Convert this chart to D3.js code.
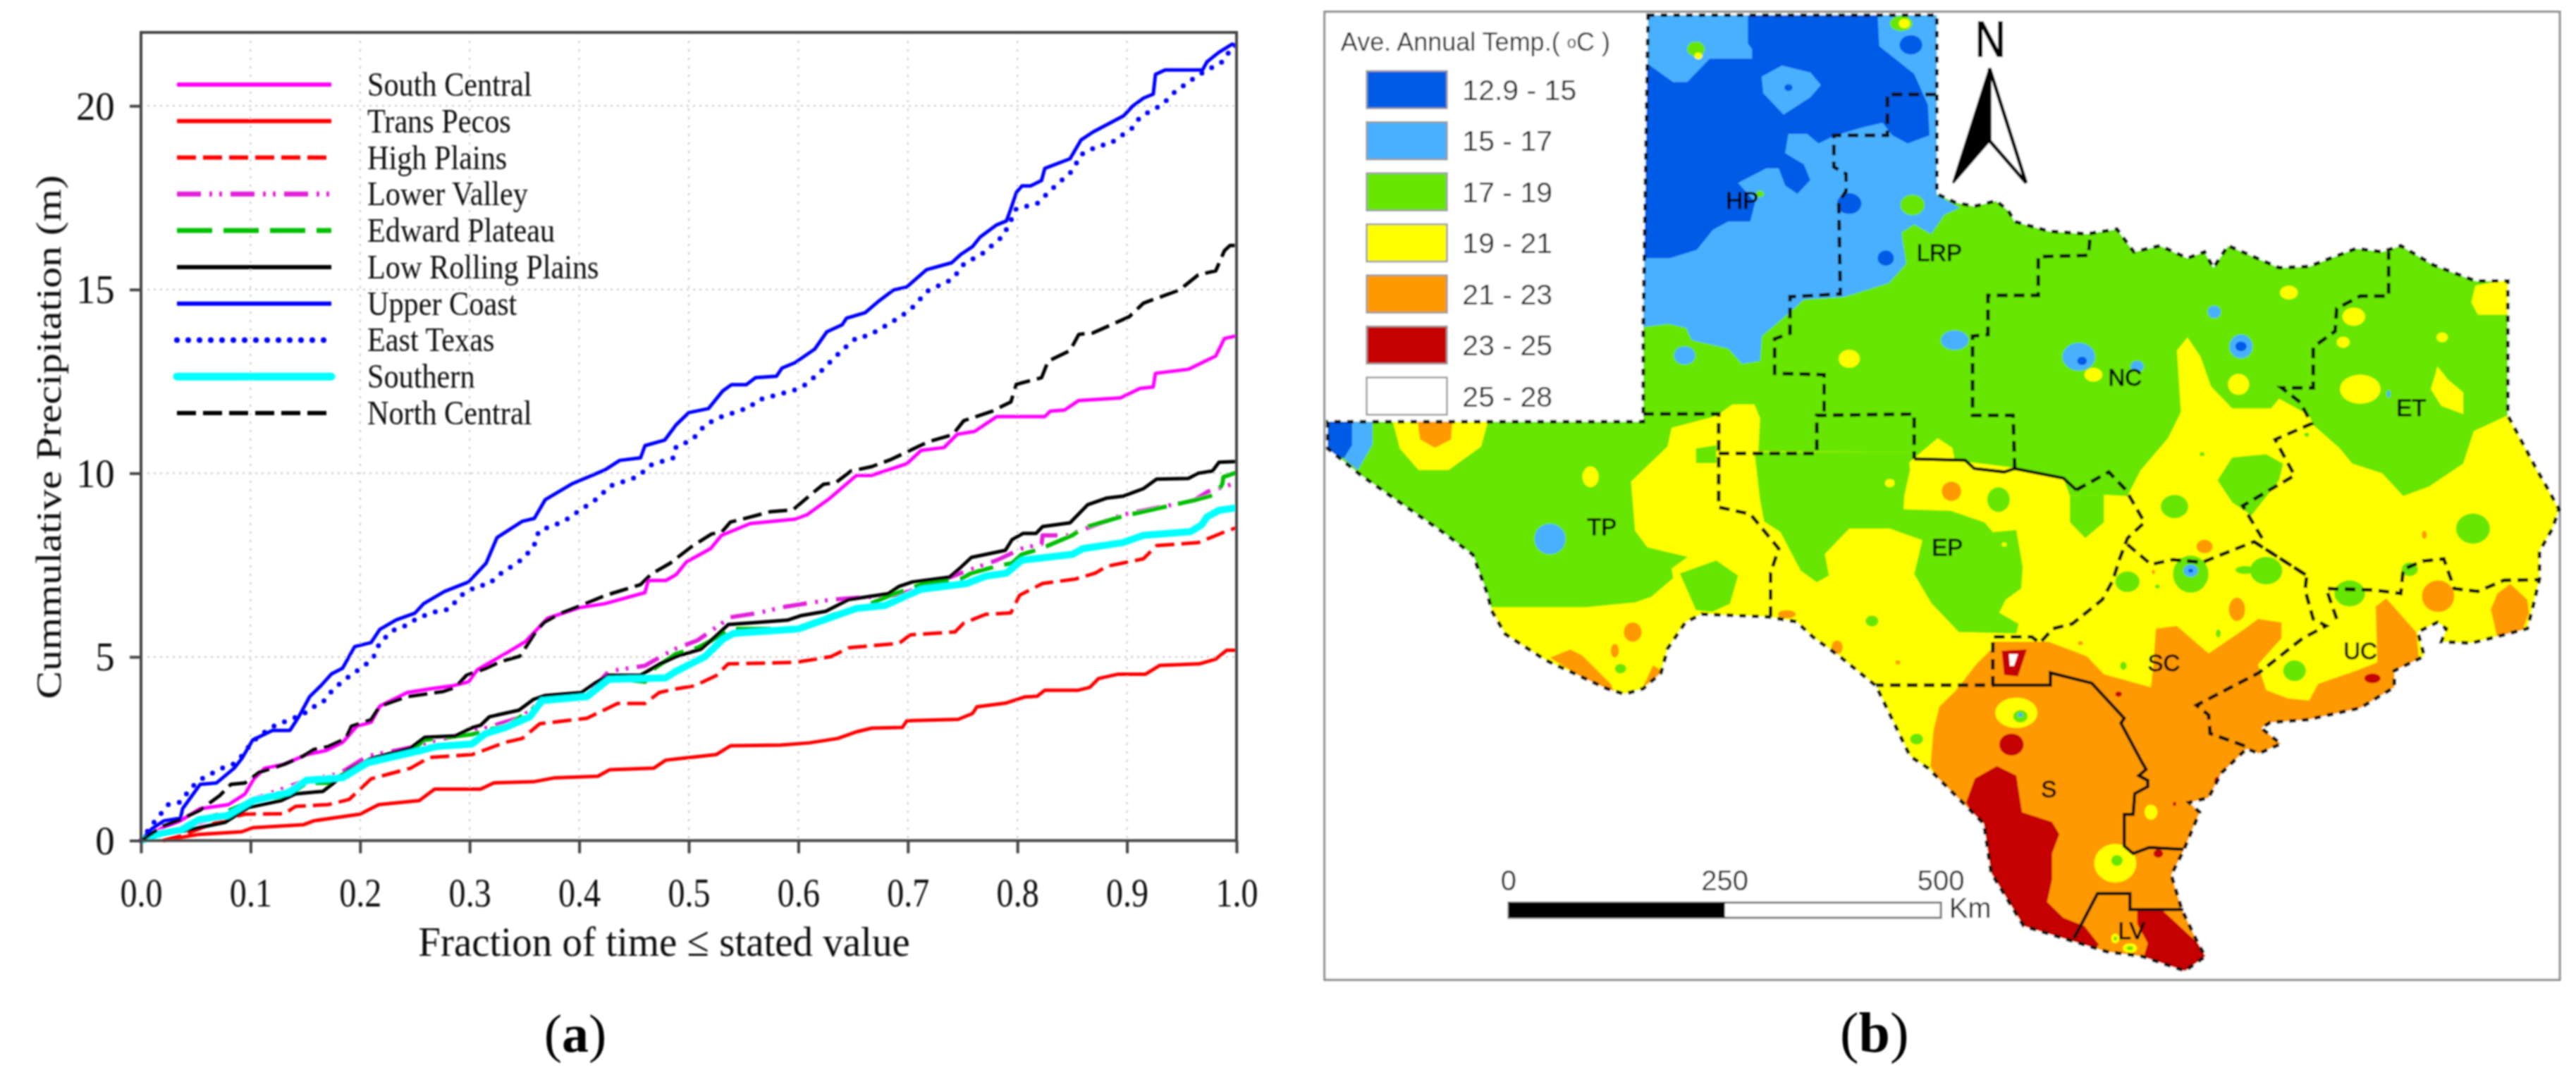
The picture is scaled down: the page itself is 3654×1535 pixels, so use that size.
<!DOCTYPE html>
<html>

<head>
  <meta charset='utf-8'>
  <script src='https://d3js.org/d3.v7.min.js'></script>
  <style>
    body {
      margin: 0;
      background: white;
    }
  </style>
</head>

<body>
  <script type='text/javascript'>
    // ---- panel (a): [fraction of time, cumulative precipitation in m]
    var southCentral = [[0,0],[.02,.35],[.036,.54],[.054,.87],[.08,.98],[.095,1.27],[.103,1.68],[.113,1.97],[.131,2.08],[.151,2.34],[.169,2.45],[.184,2.67],[.197,3.11],[.21,3.22],[.218,3.66],[.243,4.03],[.266,4.14],[.284,4.21],[.299,4.32],[.307,4.65],[.322,4.91],[.335,5.13],[.351,5.42],[.364,5.83],[.371,6.05],[.4,6.34],[.4235,6.45],[.46,6.75],[.463,7.08],[.479,7.08],[.4885,7.24],[.498,7.59],[.52,7.95],[.53,8.31],[.556,8.63],[.597,8.75],[.608,8.87],[.628,9.3],[.653,9.94],[.667,9.94],[.699,10.26],[.712,10.62],[.733,10.7],[.745,11.06],[.761,11.14],[.781,11.54],[.825,11.54],[.83,11.69],[.843,11.72],[.856,11.98],[.894,12.05],[.912,12.31],[.924,12.35],[.926,12.72],[.956,12.83],[.981,13.19],[.989,13.67],[1,13.74]];
    var transPecos = [[.02,0],[.053,.17],[.092,.24],[.102,.35],[.148,.43],[.158,.54],[.2,.72],[.217,.98],[.254,1.09],[.268,1.4],[.31,1.4],[.322,1.57],[.358,1.6],[.378,1.71],[.417,1.75],[.428,1.93],[.468,1.97],[.479,2.19],[.4885,2.22],[.525,2.34],[.538,2.58],[.584,2.6],[.61,2.66],[.636,2.78],[.653,2.96],[.667,3.06],[.695,3.08],[.699,3.26],[.746,3.3],[.759,3.46],[.763,3.64],[.789,3.74],[.807,3.91],[.818,3.93],[.825,4.09],[.855,4.09],[.866,4.17],[.874,4.41],[.892,4.53],[.917,4.53],[.93,4.77],[.966,4.81],[.981,4.94],[.991,5.18],[1,5.18]];
    var highPlains = [[.02,0],[.043,.2],[.072,.54],[.095,.72],[.131,.73],[.141,.93],[.171,.98],[.19,1.12],[.21,1.68],[.246,1.97],[.263,2.26],[.302,2.34],[.315,2.48],[.332,2.67],[.348,2.78],[.364,3.18],[.407,3.33],[.435,3.73],[.46,3.73],[.473,4.03],[.4885,4.13],[.505,4.21],[.525,4.49],[.536,4.81],[.597,4.85],[.63,5.01],[.646,5.25],[.692,5.37],[.702,5.6],[.743,5.68],[.751,5.92],[.771,6.16],[.794,6.2],[.802,6.68],[.823,7],[.853,7.12],[.871,7.28],[.882,7.47],[.915,7.67],[.927,8.03],[.965,8.11],[.988,8.39],[1,8.52]];
    var lowerValley = [[0,0],[.036,.35],[.079,.72],[.102,1.12],[.151,1.64],[.181,1.82],[.207,2.3],[.25,2.56],[.315,3.07],[.348,3.37],[.368,3.88],[.407,3.95],[.427,4.61],[.46,4.76],[.486,5.2],[.508,5.45],[.538,6.08],[.564,6.2],[.587,6.36],[.63,6.56],[.689,6.68],[.712,6.88],[.751,7.31],[.781,7.63],[.804,7.95],[.822,8.07],[.823,8.31],[.846,8.31],[.896,8.87],[.961,9.26],[.974,9.5],[1,9.74]];
    var edwardPlateau = [[0,0],[.036,.32],[.053,.57],[.072,.72],[.102,1.09],[.135,1.23],[.151,1.57],[.171,1.57],[.19,1.9],[.21,2.19],[.25,2.52],[.259,2.74],[.302,2.89],[.315,3],[.335,3.14],[.361,3.66],[.371,3.92],[.407,3.95],[.427,4.43],[.46,4.32],[.469,4.69],[.4885,5.09],[.508,5.25],[.521,5.45],[.538,5.76],[.597,5.76],[.633,6.16],[.649,6.24],[.682,6.65],[.715,7],[.748,7.12],[.758,7.28],[.781,7.47],[.795,7.55],[.804,7.79],[.817,7.91],[.828,8.03],[.85,8.31],[.86,8.51],[.896,8.83],[.961,9.26],[.981,9.42],[.987,9.7],[.988,9.9],[1,10.02]];
    var lowRollingPlains = [[0,0],[.02,.24],[.036,.24],[.053,.35],[.077,.5],[.098,.9],[.128,1.09],[.141,1.27],[.166,1.34],[.176,1.57],[.19,1.93],[.21,2.23],[.246,2.52],[.259,2.81],[.287,2.85],[.302,3.07],[.31,3.14],[.318,3.37],[.345,3.55],[.358,3.84],[.369,3.95],[.402,4.03],[.414,4.28],[.427,4.5],[.456,4.5],[.473,4.8],[.4885,5.01],[.511,5.21],[.523,5.52],[.536,5.88],[.567,5.95],[.59,6],[.602,6.12],[.625,6.24],[.646,6.56],[.682,6.72],[.692,6.92],[.704,7.04],[.738,7.17],[.748,7.43],[.758,7.71],[.789,7.9],[.795,8.19],[.805,8.36],[.817,8.36],[.823,8.55],[.848,8.65],[.864,9.14],[.881,9.32],[.897,9.38],[.915,9.58],[.927,9.84],[.956,9.86],[.965,10],[.978,10.06],[.984,10.3],[1,10.32]];
    var upperCoast = [[0,0],[.0098,.32],[.021,.54],[.036,.61],[.038,.87],[.054,1.53],[.069,1.57],[.085,1.97],[.092,2.23],[.102,2.74],[.12,3],[.136,3],[.144,3.37],[.154,3.92],[.164,4.21],[.174,4.54],[.184,4.69],[.195,5.28],[.21,5.39],[.218,5.75],[.233,6.01],[.25,6.19],[.258,6.45],[.277,6.78],[.299,7.04],[.315,7.55],[.325,8.25],[.348,8.69],[.359,8.77],[.369,9.28],[.394,9.72],[.4235,10.09],[.437,10.35],[.456,10.42],[.46,10.75],[.478,10.9],[.4885,11.32],[.5,11.65],[.518,11.76],[.531,12.24],[.539,12.41],[.5525,12.41],[.561,12.6],[.58,12.64],[.585,12.86],[.597,13.01],[.615,13.38],[.626,13.85],[.64,14.04],[.644,14.22],[.661,14.37],[.674,14.7],[.687,14.99],[.699,15.07],[.717,15.54],[.74,15.73],[.748,15.95],[.759,16.17],[.766,16.43],[.781,16.76],[.79,16.87],[.794,17.2],[.799,17.64],[.804,17.82],[.812,17.82],[.822,17.97],[.825,18.3],[.848,18.56],[.858,19.07],[.869,19.29],[.897,19.73],[.905,19.99],[.915,20.21],[.924,20.32],[.926,20.86],[.935,20.98],[.969,20.98],[.973,21.2],[.984,21.46],[.996,21.68],[1,21.64]];
    var eastTexas = [[0,0],[.01,.43],[.025,.98],[.036,1.05],[.046,1.45],[.057,1.71],[.074,1.97],[.084,2.08],[.092,2.3],[.102,2.7],[.118,3.07],[.126,3.18],[.136,3.29],[.148,3.44],[.156,3.62],[.166,3.77],[.176,4.14],[.19,4.47],[.204,4.76],[.212,4.98],[.218,5.39],[.23,5.72],[.24,5.83],[.254,6.08],[.269,6.23],[.281,6.3],[.292,6.67],[.307,6.93],[.317,6.97],[.328,7.26],[.35,7.7],[.36,8.1],[.363,8.43],[.386,8.69],[.402,9.02],[.417,9.32],[.428,9.65],[.453,9.9],[.466,10.23],[.486,10.42],[.4885,10.73],[.503,10.9],[.515,11.32],[.53,11.54],[.556,11.8],[.562,11.98],[.597,12.27],[.605,12.38],[.618,12.7],[.641,13.38],[.654,13.71],[.664,13.74],[.685,14.11],[.702,14.44],[.718,14.96],[.741,15.29],[.751,15.69],[.768,15.98],[.787,16.46],[.795,16.94],[.799,17.2],[.818,17.34],[.832,17.75],[.85,18.23],[.858,18.67],[.874,18.92],[.884,18.96],[.905,19.4],[.912,19.7],[.932,20.03],[.943,20.36],[.958,20.69],[.971,20.94],[.987,21.2],[.997,21.64],[1,21.64]];
    var southern = [[0,0],[.018,.2],[.036,.28],[.053,.57],[.079,.68],[.102,1.09],[.135,1.31],[.151,1.64],[.184,1.71],[.207,2.12],[.259,2.48],[.269,2.56],[.302,2.63],[.315,2.92],[.332,3.07],[.355,3.37],[.366,3.81],[.407,3.92],[.427,4.39],[.479,4.43],[.4885,4.61],[.515,5.01],[.531,5.48],[.541,5.64],[.6,5.76],[.653,6.32],[.679,6.4],[.712,6.84],[.754,7],[.771,7.2],[.79,7.28],[.804,7.63],[.85,7.79],[.86,7.95],[.896,8.11],[.915,8.31],[.958,8.41],[.968,8.59],[.973,8.81],[.984,8.99],[1,9.06]];
    var northCentral = [[0,0],[.02,.39],[.036,.57],[.054,.83],[.072,1.23],[.082,1.53],[.095,1.57],[.108,1.86],[.131,2.08],[.148,2.3],[.158,2.48],[.171,2.56],[.187,2.78],[.192,3.11],[.21,3.29],[.218,3.66],[.243,3.92],[.276,4.06],[.287,4.17],[.297,4.5],[.315,4.69],[.328,4.87],[.346,5.02],[.361,5.72],[.368,5.94],[.381,6.16],[.4,6.38],[.4235,6.67],[.456,6.97],[.466,7.26],[.483,7.55],[.502,7.99],[.521,8.35],[.53,8.39],[.538,8.67],[.554,8.79],[.574,8.95],[.595,9],[.602,9.18],[.613,9.46],[.623,9.7],[.634,9.74],[.648,10.06],[.667,10.18],[.685,10.38],[.702,10.62],[.718,10.85],[.741,11.05],[.751,11.43],[.777,11.69],[.794,11.94],[.799,12.42],[.822,12.6],[.828,13.05],[.848,13.34],[.856,13.78],[.869,13.82],[.902,14.26],[.915,14.63],[.948,14.99],[.965,15.4],[.981,15.51],[.989,16.06],[.994,16.2],[1,16.2]];

    var seriesNames = ['South Central', 'Trans Pecos', 'High Plains', 'Lower Valley', 'Edward Plateau', 'Low Rolling Plains', 'Upper Coast', 'East Texas', 'Southern', 'North Central'];
    var seriesValues = [southCentral, transPecos, highPlains, lowerValley, edwardPlateau, lowRollingPlains, upperCoast, eastTexas, southern, northCentral];
    var seriesColors = ['#ff00ff', '#ff0000', '#ff0000', '#e020d8', '#00c000', '#000000', '#0000ff', '#0000ff', '#00ffff', '#000000'];
    var seriesWidths = [5, 5, 5, 6, 6, 5, 5, 7, 10, 5];
    var seriesDashes = [null, null, '27 10', '34 12 4 10 4 12', '50 16', null, null, '0 16', null, '27 10'];

    var xTicks = [0, .1, .2, .3, .4, .5, .6, .7, .8, .9, 1];
    var yTicks = [0, 5, 10, 15, 20];

    // ---- panel (b): legend classes and shapes, in map read units (1568 x 1568 over the panel)
    var tempClasses = ['12.9 - 15', '15 - 17', '17 - 19', '19 - 21', '21 - 23', '23 - 25', '25 - 28'];
    var tempColors = ['#005ce6', '#4ab0ff', '#66e600', '#ffff00', '#ff9900', '#c40000', '#ffffff'];

    var texasOutline = [[424,22],[780,22],[780,281],[802,293],[826,299],[853,291],[868,305],[876,321],[918,335],[965,339],[1002,332],[1023,365],[1055,356],[1089,374],[1110,365],[1121,388],[1139,356],[1202,388],[1239,386],[1297,360],[1329,365],[1352,356],[1392,384],[1444,407],[1484,407],[1484,602],[1518,677],[1534,710],[1547,738],[1539,766],[1523,799],[1523,839],[1515,879],[1508,911],[1476,921],[1439,932],[1402,930],[1408,911],[1397,902],[1373,916],[1381,951],[1344,972],[1344,996],[1302,1026],[1237,1043],[1191,1047],[1180,1055],[1204,1078],[1177,1092],[1162,1085],[1131,1120],[1115,1156],[1091,1163],[1104,1177],[1089,1219],[1084,1233],[1069,1268],[1082,1318],[1102,1367],[1111,1386],[1086,1407],[1033,1386],[989,1379],[945,1363],[887,1342],[847,1265],[838,1194],[816,1168],[769,1113],[747,1096],[705,994],[662,953],[627,923],[607,901],[572,894],[490,890],[470,902],[448,940],[440,975],[418,998],[395,1006],[373,998],[298,957],[248,919],[231,885],[226,861],[208,804],[173,773],[119,729],[69,688],[29,650],[29,611],[418,611],[418,475]];

    var lightBlueAreas = [
      [[424,22],[780,22],[780,283],[808,301],[789,311],[773,339],[752,325],[736,337],[742,382],[721,410],[666,430],[616,434],[597,454],[564,487],[562,523],[540,527],[523,505],[478,493],[471,475],[449,469],[410,475]],
      [[59,611],[84,611],[84,644],[66,681],[49,664]]
    ];
    var darkBlueAreas = [
      [[547,22],[547,63],[552,71],[552,85],[500,85],[472,119],[455,119],[424,93],[410,93],[410,374],[451,374],[484,362],[504,333],[523,321],[550,321],[556,293],[535,265],[570,244],[585,244],[593,269],[608,281],[624,261],[616,238],[593,222],[597,194],[620,194],[634,208],[655,196],[690,184],[713,178],[725,196],[744,208],[771,196],[769,152],[752,107],[709,67],[707,22]],
      [[20,605],[59,605],[59,645],[49,664],[20,650]]
    ];
    var lightBlueIslands = [[[564,111],[589,95],[624,105],[637,123],[624,141],[591,166],[566,135]]];
    var yellowAreas = [
      [[200,880],[231,880],[348,880],[408,873],[428,865],[455,838],[453,824],[473,807],[423,793],[408,769],[403,698],[448,647],[453,620],[508,603],[528,586],[555,586],[562,606],[560,654],[745,655],[739,677],[781,635],[799,649],[802,667],[870,677],[936,693],[944,719],[986,717],[1015,719],[1031,682],[1065,635],[1081,597],[1076,508],[1089,489],[1105,517],[1118,560],[1144,592],[1192,592],[1202,578],[1239,602],[1244,616],[1276,649],[1292,672],[1329,686],[1355,719],[1387,705],[1429,672],[1442,625],[1484,602],[1600,620],[1600,1000],[1100,1430],[700,1430],[430,1040],[200,1040]],
      [[108,605],[228,605],[218,647],[178,681],[141,681],[118,650]],
      [[1444,414],[1484,405],[1490,456],[1447,456],[1439,438]],
      [[1397,531],[1410,550],[1429,569],[1429,600],[1402,588],[1389,564],[1395,541]]
    ];
    var greenAreas = [
      [[555,655],[745,655],[747,681],[740,718],[739,738],[797,740],[839,757],[849,771],[878,768],[886,822],[884,853],[865,869],[857,888],[881,904],[878,918],[807,916],[773,874],[752,832],[762,783],[722,766],[672,766],[642,803],[647,834],[632,844],[612,827],[587,771],[567,756],[562,725],[558,684]],
      [[483,650],[508,645],[508,671],[483,671]],
      [[463,831],[508,812],[535,834],[525,875],[503,887],[483,884]],
      [[1126,696],[1144,663],[1186,658],[1207,672],[1202,696],[1168,747],[1144,728]],
      [[944,719],[986,717],[986,757],[963,780],[944,757]]
    ];
    var orangeAreas = [
      [[772,1110],[776,1057],[783,1024],[803,1001],[829,962],[849,939],[849,930],[918,930],[965,951],[986,977],[1044,996],[1047,963],[1050,911],[1076,907],[1115,947],[1160,911],[1176,897],[1205,902],[1205,925],[1176,963],[1186,1000],[1213,1012],[1239,1015],[1250,991],[1297,972],[1323,960],[1321,879],[1334,867],[1371,916],[1375,960],[1400,960],[1300,1060],[1180,1110],[1120,1170],[1100,1250],[1090,1330],[1130,1400],[1080,1430],[980,1400],[900,1360],[830,1220],[800,1170]],
      [[1471,860],[1487,846],[1508,869],[1510,888],[1502,914],[1471,925],[1463,883]],
      [[303,953],[328,941],[343,950],[378,991],[385,1010],[368,1000]],
      [[418,995],[430,964],[445,975]],
      [[139,605],[183,605],[181,637],[161,649],[143,637]]
    ];
    var redAreas = [
      [[816,1163],[827,1128],[854,1110],[878,1124],[885,1177],[922,1191],[931,1209],[922,1237],[922,1275],[916,1307],[936,1330],[962,1342],[980,1369],[960,1390],[936,1375],[880,1345],[840,1265],[830,1194]],
      [[1027,1319],[1058,1319],[1102,1367],[1120,1386],[1086,1420],[1033,1395],[1040,1367],[1027,1339]],
      [[860,943],[891,941],[880,980],[863,978]]
    ];
    var whiteAreas = [[[869,948],[880,948],[875,965],[870,965]]];

    // [x, y, x radius, y radius, class index] for the small spots on the map
    var mapSpots = [
      [483,71,11,11,2],[486,81,5,5,3],[736,34,14,11,2],[740,34,7,7,3],[748,65,14,14,0],[597,127,5,5,0],[672,295,15,15,0],[717,374,10,11,0],[562,281,5,5,2],[575,321,4,4,1],[750,297,15,15,2],
      [469,515,13,13,1],[802,493,17,14,1],[955,517,20,20,1],[959,523,6,6,0],[973,543,11,10,3],[672,520,13,13,3],[1027,531,8,8,1],[1122,452,8,9,1],[1155,502,14,17,1],[1155,502,7,7,0],
      [1214,424,11,10,3],[1294,459,14,13,3],[1281,496,8,8,3],[1152,557,13,15,3],[1302,564,25,21,3],[1403,489,7,7,3],[1337,571,2,5,1],
      [353,691,10,15,3],[303,781,19,22,1],[405,916,11,14,4],[383,943,5,10,4],[390,969,7,7,2],[595,890,11,6,4],[657,938,7,10,4],[700,900,8,8,2],[732,960,3,3,4],[722,700,6,6,3],
      [798,712,12,14,4],[856,724,14,18,2],[863,789,3,3,3],
      [1073,734,17,17,2],[1015,843,15,15,2],[1093,832,22,27,2],[1093,827,9,9,1],[1093,827,3,3,0],[1186,827,20,20,2],[1160,826,12,6,2],[1289,860,19,19,2],[1363,825,10,10,2],[1441,766,21,22,2],[1221,972,14,15,2],[1010,965,4,6,2],[1127,918,3,6,2],[1107,658,3,3,2],[1236,630,3,3,2],[1052,850,3,3,2],
      [1110,792,10,10,4],[1150,883,10,17,4],[1398,864,20,23,4],[1381,775,3,6,4],[1047,829,2,3,4],[957,932,3,3,4],
      [878,1033,26,22,3],[883,1038,9,9,2],[883,1036,3,3,1],[872,1079,15,16,5],[1000,1251,26,28,3],[1002,1247,7,8,2],[755,1071,8,8,2],[1044,1177,8,11,3],[1053,1237,6,6,5],[1317,983,10,7,5],[1004,1006,4,4,5],[1126,1131,4,5,5],[1073,1165,2,3,5],[1018,1374,9,7,3],[1018,1374,4,3,2],[1000,1360,5,7,3],[1000,1360,2,3,2]
    ];

    var dashedRegionLines = [
      [[779,137],[719,137],[719,196],[653,196],[653,242],[668,252],[668,277],[659,293],[661,426],[599,430],[599,483],[580,491],[580,541],[641,543],[641,600]],
      [[418,600],[511,600],[511,735],[550,745],[585,795],[575,830],[575,894]],
      [[511,657],[632,657],[632,602],[752,600],[752,665]],
      [[876,679],[874,602],[824,602],[824,487],[843,485],[843,428],[905,428],[905,372],[967,370],[969,341]],
      [[952,710],[992,684],[1013,710],[1036,757],[1015,780],[1005,811],[997,841],[984,869],[947,904],[923,911],[907,932],[897,923],[849,923],[849,993],[705,993]],
      [[1015,789],[1044,818],[1071,811],[1107,815],[1171,785],[1236,834],[1234,855],[1244,897],[1260,907],[1231,925],[1177,975],[1100,1022],[1115,1036],[1117,1063],[1162,1082]],
      [[1181,780],[1157,733],[1221,689],[1197,637],[1242,614],[1228,583],[1205,562],[1244,562],[1244,503],[1271,480],[1273,447],[1302,429],[1337,429],[1337,365]],
      [[1171,785],[1236,834]],
      [[1273,897],[1260,853],[1318,855],[1352,860],[1355,825],[1379,813],[1405,810],[1418,853],[1447,857],[1479,841],[1523,840]]
    ];
    var solidRegionLines = [
      [[752,665],[815,667],[826,679],[863,684],[876,679],[936,693],[952,710]],
      [[849,993],[920,993],[920,975],[971,990],[1011,1041],[1007,1048],[1033,1105],[1038,1115],[1029,1124],[1040,1131],[1040,1140],[1024,1150],[1022,1180],[1011,1180],[1011,1226],[1022,1237],[1042,1228],[1084,1231]],
      [[949,1360],[978,1295],[1018,1295],[1018,1318],[1084,1318]]
    ];

    var regionLabels = ['HP', 'LRP', 'NC', 'ET', 'TP', 'EP', 'SC', 'UC', 'S', 'LV'];
    var regionLabelX = [540, 783, 1012, 1365, 367, 793, 1060, 1302, 918, 1020];
    var regionLabelY = [290, 366, 547, 591, 763, 793, 960, 943, 1143, 1348];

    var scaleKm = [0, 250, 500];

    // ---- page
    var svg = d3.select('body').append('svg')
      .attr('width', 3654)
      .attr('height', 1535)
      .style('display', 'block');

    // the source figure is a soft upscaled bitmap
    svg.append('defs').append('filter')
      .attr('id', 'soft')
      .attr('filterUnits', 'userSpaceOnUse')
      .attr('x', 0).attr('y', 0).attr('width', 3654).attr('height', 1535)
      .append('feGaussianBlur')
      .attr('stdDeviation', 1.3);

    var page = svg.append('g').attr('filter', 'url(#soft)');

    /*
      Panel (a)
    */
    var x = d3.scaleLinear().domain([0, 1]).range([200, 1754]);
    var y = d3.scaleLinear().domain([0, 22]).range([1192.5, 46]);
    var serif = "'Liberation Serif', serif";
    var sans = "'Liberation Sans', Arial, sans-serif";

    var chart = page.append('g');

    // dotted grid
    chart.selectAll('.gridx').data(xTicks.slice(1, -1)).enter().append('line')
      .attr('x1', function(d) { return x(d); })
      .attr('x2', function(d) { return x(d); })
      .attr('y1', y(22)).attr('y2', y(0))
      .attr('stroke', '#c4c4c4').attr('stroke-width', 2).attr('stroke-dasharray', '3 9');
    chart.selectAll('.gridy').data(yTicks.slice(1)).enter().append('line')
      .attr('x1', x(0)).attr('x2', x(1))
      .attr('y1', function(d) { return y(d); })
      .attr('y2', function(d) { return y(d); })
      .attr('stroke', '#c4c4c4').attr('stroke-width', 2).attr('stroke-dasharray', '3 6');

    var line = d3.line()
      .x(function(d) { return x(d[0]); })
      .y(function(d) { return y(d[1]); });

    seriesValues.forEach(function(values, i) {
      chart.append('path')
        .attr('d', line(values))
        .attr('fill', 'none')
        .attr('stroke', seriesColors[i])
        .attr('stroke-width', seriesWidths[i])
        .attr('stroke-dasharray', seriesDashes[i])
        .attr('stroke-linecap', seriesDashes[i] === '0 16' ? 'round' : 'butt')
        .attr('stroke-linejoin', 'round');
    });

    // axes and frame
    var axisColor = '#444';
    var textColor = '#111';
    var xAxis = d3.axisBottom(x).tickValues(xTicks).tickFormat(d3.format('.1f')).tickSize(18).tickPadding(0);
    var yAxis = d3.axisLeft(y).tickValues(yTicks).tickFormat(d3.format('d')).tickSize(16).tickPadding(0);
    var gx = chart.append('g').attr('transform', 'translate(0,' + y(0) + ')').call(xAxis);
    var gy = chart.append('g').attr('transform', 'translate(' + x(0) + ',0)').call(yAxis);
    chart.selectAll('.domain').remove();
    chart.selectAll('.tick line').attr('stroke', axisColor).attr('stroke-width', 4);
    gx.selectAll('text')
      .attr('y', 94).attr('dy', 0)
      .attr('transform', 'scale(0.86,1)')
      .style('font-family', serif).style('font-size', '56px').style('fill', textColor);
    gy.selectAll('text')
      .attr('x', -38).attr('dy', '0.34em')
      .attr('transform', 'scale(0.98,1)')
      .style('font-family', serif).style('font-size', '56px').style('fill', textColor);
    chart.append('rect')
      .attr('x', x(0)).attr('y', y(22))
      .attr('width', x(1) - x(0)).attr('height', y(0) - y(22))
      .attr('fill', 'none').attr('stroke', axisColor).attr('stroke-width', 4);

    chart.append('text')
      .attr('transform', 'translate(942,1356) scale(0.95,1)')
      .attr('text-anchor', 'middle')
      .style('font-family', serif).style('font-size', '60px').style('fill', textColor)
      .text('Fraction of time \u2264 stated value');
    chart.append('text')
      .attr('transform', 'translate(86,620) rotate(-90) scale(1.19,1)')
      .attr('text-anchor', 'middle')
      .style('font-family', serif).style('font-size', '50px').style('fill', textColor)
      .text('Cummulative Precipitation (m)');

    // legend
    var legendRow = d3.scaleLinear().domain([0, 9]).range([120, 586]);
    seriesNames.forEach(function(name, i) {
      chart.append('line')
        .attr('x1', 251).attr('x2', 470)
        .attr('y1', legendRow(i)).attr('y2', legendRow(i))
        .attr('stroke', seriesColors[i])
        .attr('stroke-width', seriesWidths[i] + 1)
        .attr('stroke-dasharray', seriesDashes[i])
        .attr('stroke-linecap', (seriesDashes[i] === '0 16' || i === 8) ? 'round' : 'butt');
      chart.append('text')
        .attr('transform', 'translate(521,' + (legendRow(i) + 16) + ') scale(0.88,1)')
        .style('font-family', serif).style('font-size', '48px').style('fill', textColor)
        .text(name);
    });

    chart.append('text')
      .attr('x', 816).attr('y', 1492)
      .attr('text-anchor', 'middle')
      .style('font-family', serif).style('font-size', '76px').style('fill', '#000')
      .html('(<tspan font-weight="bold">a</tspan>)');

    /*
      Panel (b)
    */
    var mapX = d3.scaleLinear().domain([0, 1568]).range([1850, 3654]);
    var mapY = d3.scaleLinear().domain([0, 1568]).range([0, 1535]);
    var mapLine = d3.line()
      .x(function(d) { return mapX(d[0]); })
      .y(function(d) { return mapY(d[1]); });
    var ring = d3.line()
      .x(function(d) { return mapX(d[0]); })
      .y(function(d) { return mapY(d[1]); })
      .curve(d3.curveLinearClosed);

    var map = page.append('g');
    map.append('rect')
      .attr('x', mapX(25)).attr('y', mapY(17))
      .attr('width', mapX(1548) - mapX(25)).attr('height', mapY(1420) - mapY(17))
      .attr('fill', 'white').attr('stroke', '#8a8a8a').attr('stroke-width', 3);

    svg.select('defs').append('clipPath').attr('id', 'texas')
      .append('path').attr('d', ring(texasOutline));

    var land = map.append('g').attr('clip-path', 'url(#texas)');
    function fillAreas(areas, color) {
      areas.forEach(function(area) {
        land.append('path').attr('d', ring(area)).attr('fill', color);
      });
    }
    fillAreas([texasOutline], tempColors[2]);
    fillAreas(lightBlueAreas, tempColors[1]);
    fillAreas(darkBlueAreas, tempColors[0]);
    fillAreas(lightBlueIslands, tempColors[1]);
    fillAreas(yellowAreas, tempColors[3]);
    fillAreas(greenAreas, tempColors[2]);
    fillAreas(orangeAreas, tempColors[4]);
    fillAreas(redAreas, tempColors[5]);
    fillAreas(whiteAreas, tempColors[6]);

    // small spots go on top in their listed order
    mapSpots.forEach(function(s) {
      land.append('ellipse')
        .attr('cx', mapX(s[0])).attr('cy', mapY(s[1]))
        .attr('rx', mapX(s[2]) - mapX(0)).attr('ry', mapY(s[3]) - mapY(0))
        .attr('fill', tempColors[s[4]]);
    });

    map.append('path')
      .attr('d', ring(texasOutline))
      .attr('fill', 'none').attr('stroke', '#111').attr('stroke-width', 5).attr('stroke-dasharray', '9 9');

    dashedRegionLines.forEach(function(r) {
      map.append('path')
        .attr('d', mapLine(r))
        .attr('fill', 'none').attr('stroke', '#111').attr('stroke-width', 5).attr('stroke-dasharray', '15 9');
    });
    solidRegionLines.forEach(function(r) {
      map.append('path')
        .attr('d', mapLine(r))
        .attr('fill', 'none').attr('stroke', '#111').attr('stroke-width', 4.5);
    });

    regionLabels.forEach(function(t, i) {
      map.append('text')
        .attr('x', mapX(regionLabelX[i])).attr('y', mapY(regionLabelY[i]))
        .attr('dy', '0.36em').attr('text-anchor', 'middle')
        .style('font-family', sans).style('font-size', '33px').style('fill', '#000')
        .style('stroke', '#000').style('stroke-width', 1)
        .text(t);
    });

    // map legend
    map.append('text')
      .attr('x', mapX(45)).attr('y', mapY(60)).attr('dy', '0.36em')
      .style('font-family', sans).style('font-size', '36px').style('fill', '#222')
      .html('Ave. Annual Temp.( <tspan font-size="24px" dy="-4">o</tspan><tspan dy="4">C )</tspan>');
    var swatch = d3.scaleLinear().domain([0, 6]).range([103, 547]);
    tempClasses.forEach(function(t, i) {
      map.append('rect')
        .attr('x', mapX(77)).attr('y', mapY(swatch(i)))
        .attr('width', mapX(176) - mapX(77)).attr('height', mapY(54) - mapY(0))
        .attr('fill', tempColors[i]).attr('stroke', '#999').attr('stroke-width', 2.5);
      map.append('text')
        .attr('x', mapX(195)).attr('y', mapY(swatch(i) + 27)).attr('dy', '0.36em')
        .style('font-family', sans).style('font-size', '41px').style('fill', '#222')
        .text(t);
    });

    // north arrow
    map.append('text')
      .attr('transform', 'translate(' + mapX(846) + ',' + mapY(82) + ') scale(0.86,1)')
      .attr('text-anchor', 'middle')
      .style('font-family', sans).style('font-size', '70px').style('fill', '#000')
      .style('stroke', '#000').style('stroke-width', 1.5)
      .text('N');
    map.append('path').attr('d', ring([[845, 99], [890, 265], [845, 204]]))
      .attr('fill', 'white').attr('stroke', '#000').attr('stroke-width', 5);
    map.append('path').attr('d', ring([[845, 99], [800, 265], [845, 204]]))
      .attr('fill', '#000').attr('stroke', '#000').attr('stroke-width', 3);

    // scale bar
    var kmScale = d3.scaleLinear().domain([0, 500]).range([252, 785]);
    map.append('rect')
      .attr('x', mapX(kmScale(0))).attr('y', mapY(1308))
      .attr('width', mapX(kmScale(500)) - mapX(kmScale(0))).attr('height', mapY(22) - mapY(0))
      .attr('fill', 'white').attr('stroke', '#777').attr('stroke-width', 3);
    map.append('rect')
      .attr('x', mapX(kmScale(0))).attr('y', mapY(1308))
      .attr('width', mapX(kmScale(250)) - mapX(kmScale(0))).attr('height', mapY(22) - mapY(0))
      .attr('fill', '#000');
    scaleKm.forEach(function(k) {
      map.append('text')
        .attr('x', mapX(kmScale(k))).attr('y', mapY(1275)).attr('dy', '0.36em')
        .attr('text-anchor', 'middle')
        .style('font-family', sans).style('font-size', '40px').style('fill', '#222')
        .text(k);
    });
    map.append('text')
      .attr('x', mapX(795)).attr('y', mapY(1315)).attr('dy', '0.36em')
      .style('font-family', sans).style('font-size', '40px').style('fill', '#222')
      .text('Km');

    map.append('text')
      .attr('x', mapX(703)).attr('y', 1492)
      .attr('text-anchor', 'middle')
      .style('font-family', serif).style('font-size', '80px').style('fill', '#000')
      .html('(<tspan font-weight="bold">b</tspan>)');
  </script>
</body>

</html>
